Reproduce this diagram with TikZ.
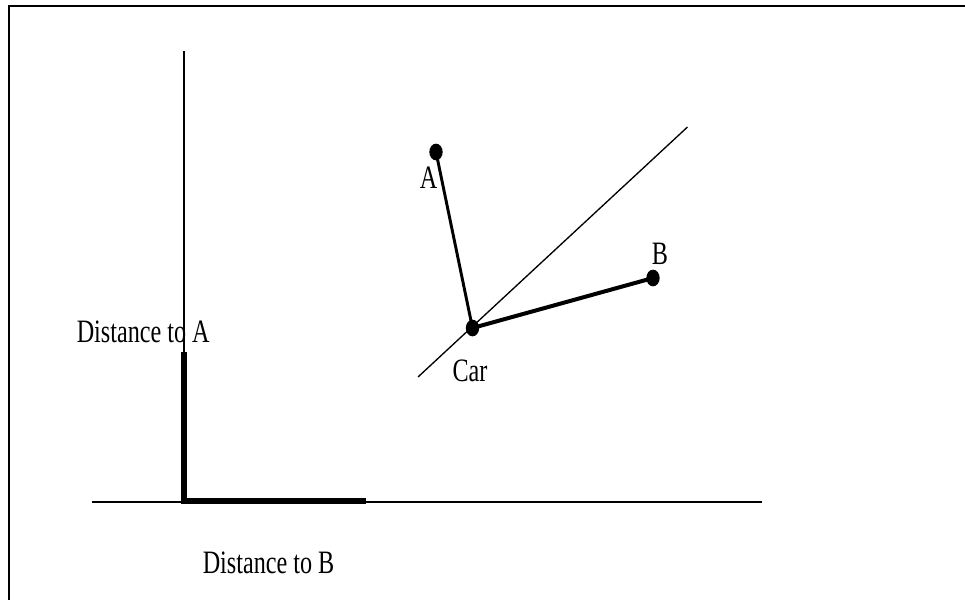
\documentclass[tikz,border=0pt]{standalone}
\usepackage{fontspec}
\setmainfont{Liberation Serif}
\usepackage{graphicx}
\usetikzlibrary{shapes.geometric}
\newcommand{\narrowtxt}[1]{\scalebox{0.74}[1]{#1}}
\tikzset{
  frameline/.style={line width=2.2pt, black},
  axisline/.style={line width=1.5pt, black},
  distbar/.style={line width=4.5pt, black},
  guide/.style={line width=1pt, black},
  linkA/.style={line width=2.2pt, black},
  linkB/.style={line width=3pt, black},
  dot/.style={ellipse, fill=black, inner sep=0pt, minimum width=10pt, minimum height=12.5pt},
  lbl/.style={font=\fontsize{24.5}{28}\selectfont, inner sep=0pt, text=black}
}
\begin{document}
\begin{tikzpicture}[x=0.75pt,y=-0.75pt]
\useasboundingbox (0,0) rectangle (965,600);
\fill[white] (0,0) rectangle (965,600);
% frame (top and left only)
\coordinate (fTL) at (9,6);
\coordinate (fTR) at (966,6);
\coordinate (fBL) at (9,601);
\draw[frameline] (fTR) -- (fTL) -- (fBL);
% axes
\coordinate (O) at (184,501.5);
\coordinate (yTop) at (184,51);
\coordinate (xLeft) at (92,501.5);
\coordinate (xRight) at (762,501.5);
\coordinate (yA) at (184,352);
\coordinate (xB) at (366,501);
\draw[axisline] (yTop) -- (O);
\draw[axisline] (xLeft) -- (xRight);
\draw[distbar] (yA) -- (184,503.7);
\draw[distbar] (181.75,501) -- (xB);
% guide line
\coordinate (gS) at (418,377);
\coordinate (gE) at (687.5,127);
\draw[guide] (gS) -- (gE);
% points
\node[dot] (A) at (436,152) {};
\node[dot] (car) at (472.5,328) {};
\node[dot] (B) at (653,278) {};
\draw[linkA] (A.center) -- (car.center);
\draw[linkB] (car.center) -- (B.center);
% labels
\node[lbl, anchor=base] (lA) at (428.5,188) {\narrowtxt{A}};
\node[lbl, anchor=base] (lB) at (660,264) {\narrowtxt{B}};
\node[lbl, anchor=base] (lCar) at (470,381.5) {\narrowtxt{Car}};
\node[lbl, anchor=base west] (dA) at (76.5,342) {\narrowtxt{Distance to A}};
\node[lbl, anchor=base west] (dB) at (202.5,573) {\narrowtxt{Distance to B}};
\end{tikzpicture}
\end{document}
